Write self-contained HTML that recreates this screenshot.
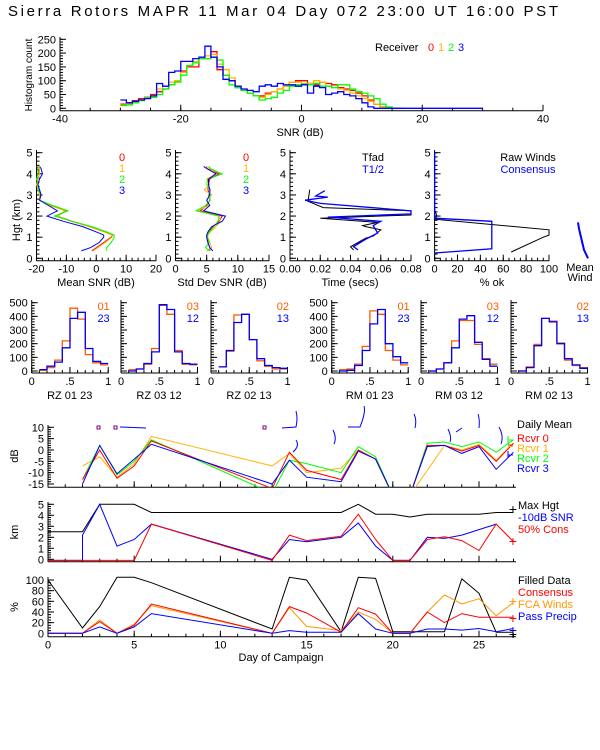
<!DOCTYPE html>
<html><head><meta charset="utf-8">
<style>
html,body{margin:0;padding:0;background:#fff;}
svg{display:block;font-family:"Liberation Sans",sans-serif;}
text{font-size:11px;}
</style></head>
<body>
<svg id="chart" xmlns="http://www.w3.org/2000/svg" width="600" height="750" viewBox="0 0 600 750">
<rect x="0" y="0" width="600" height="750" fill="#fff"/>
<text x="8" y="16" textLength="550" style="font-size:15px">Sierra Rotors  MAPR 11 Mar 04 Day 072  23:00 UT  16:00  PST</text>
</svg>
<script>
// ---------- DATA ----------
const histBinStart = -30;
const histRed = [15,20,28,35,40,50,60,70,85,100,135,150,150,180,180,205,140,120,100,75,65,55,45,45,55,60,70,80,95,100,100,90,85,95,90,85,75,70,65,55,45,30,15,5,0,0,0];
const histOrange = [12,15,20,30,38,45,70,80,95,100,130,155,170,180,190,195,160,140,110,80,65,55,45,40,50,60,70,80,95,95,90,90,100,95,80,75,70,65,55,45,35,25,15,5,0,0,0];
const histGreen = [10,12,20,28,38,40,50,70,85,95,120,155,165,180,180,185,175,120,85,75,65,55,45,30,35,40,55,65,80,85,88,85,90,80,80,75,85,85,70,60,55,45,35,15,5,0,0];
const histBlue = [30,20,25,30,35,45,90,80,130,135,170,170,180,185,225,185,150,105,100,80,70,65,60,80,85,80,90,85,85,80,85,55,80,75,50,55,60,50,45,35,20,5,0,0,0,0,0,0,0,0,0,0,0,0,0,0,0,0,0,0];
const histXTicks = [-40,-20,0,20,40];
const histYTicks = [0,50,100,150,200,250];

const profHeights = [0.35,0.5,0.75,1.0,1.1,1.25,1.5,1.75,2.0,2.25,2.5,2.75,3.0,3.25,3.5,3.75,4.0,4.25,4.35];
const meanRed = [-1.5,0,2.5,5,5.5,3,-2,-8,-13,-10,-15,-19,-18.5,-19,-20,-19.5,-19,-19.5,-20];
const meanOrange = [-1,0.5,3,5.3,5.3,2.5,-2.5,-8.5,-13,-10.5,-15.5,-19,-19,-19.5,-20,-19.5,-19,-19,-19.5];
const meanGreen = [3.5,3.5,5,6,6,3.5,-1.5,-8,-14,-9.5,-14.5,-19,-18.5,-19.5,-19.5,-20,-19.5,-19.5,-19.5];
const meanBlue = [-5,-2,1,2.5,2.5,0,-4.5,-11,-16.5,-13,-16,-19,-18.5,-19,-19.5,-19,-18,-18.5,-19];
const sdRed = [5.5,5.5,5.2,5,5,5.3,6,7,7.5,4,5,5.5,5.5,5.2,5.3,5.5,7,5,5];
const sdOrange = [5,5.8,5.5,5.2,5.1,5.6,6.5,7.2,7,3.5,5.3,5,5.8,4.6,5.5,5,6.5,5.5,5.2];
const sdGreen = [5.5,4.8,5.4,5.1,5.2,5.4,6.2,6.8,7,3.3,4.8,5.6,5.3,5.6,5,5.2,7.5,5.5,5.5];
const sdBlue = [6,5.5,5.2,5,5,5.2,5.8,7.5,8,4.5,5.5,5,5.5,5.5,5.3,5.3,6.5,5,4.5];
const tfadT = [0.042,0.040,0.045,0.050,0.055,0.060,0.050,0.048,0.058,0.020,0.080,0.080,0.022,0.012,0.013];
const tfadH = [0.40,0.55,0.75,0.95,1.05,1.35,1.50,1.55,1.70,1.90,2.05,2.25,2.40,2.70,3.25];
const thalfT = [0.045,0.042,0.050,0.058,0.055,0.060,0.025,0.080,0.080,0.020,0.010,0.025,0.017,0.023];
const thalfH = [0.40,0.55,0.90,1.20,1.55,1.75,1.95,2.10,2.25,2.60,2.75,2.90,2.95,3.20];
const rawPct = [67,95,100,100,0,2,0,0];
const rawH = [0.30,1.00,1.10,1.35,1.85,2.00,2.30,5.00];
const consPct = [0,50,50,0,0];
const consH = [0.25,0.45,1.75,1.90,5.00];
const windH = [0.0,0.2,0.4,0.6,0.8,1.0,1.2,1.4,1.7];
const windX = [588,586,584,583,582,581,580,579,578];

const rzLabels = ["RZ  01  23","RZ  03  12","RZ  02  13","RM  01  23","RM  03  12","RM  02  13"];
const rzLegA = ["01","03","02","01","03","02"];
const rzLegB = ["23","12","13","23","12","13"];
const rzOrange = [[5,25,80,220,460,380,120,60,45],[10,15,50,165,480,415,150,50,45],[30,145,410,415,230,75,35,15,15],[10,15,50,180,440,415,150,80,45],[0,15,60,220,370,370,195,90,50],[0,30,195,385,365,205,80,40,25]];
const rzBlue = [[10,35,65,170,385,430,165,70,55],[0,15,55,140,485,450,140,55,50],[30,150,355,415,230,90,40,25,20],[0,5,40,150,345,450,200,105,60],[0,15,60,170,380,405,210,85,35],[0,25,185,385,360,200,90,45,20]];

const days = [2,3,4,5,6,13,14,15,17,18,19,20,21,22,23,24,25,26,27];
const dbRed = [-13,0,-12.5,-7,4,-17,-1,-9,-13,0,-4,-20,-20,2,2,-0.5,2,-5,3];
const dbOrange = [-7,-3,-12,-6,6,-7,-1.5,-10,-8,0,-4,-20,-20,-9,2,0,2.5,-4.5,3];
const dbGreen = [-13,2,-11,-5,4.5,-19,-4.5,-6,-10,1.5,-3,-20,-20,3,3.5,1.5,3.5,-1,4.5];
const dbBlue = [-15,2,-10.5,-4,2.5,-15,-4.5,-12,-14,-0.5,-4,-20,-20,1.5,2,-1.5,1.5,-8.5,-1];
const maxDays = [0,2,3,5,6,17,18,19,20,21,22,25,26,27];
const maxHgt = [2.5,2.5,5,5,4.25,4.25,5,4.1,4.1,3.85,4.1,4.1,4.25,4.25];
const snrDays = [0,2,2,3,4,5,6,13,14,15,17,18,19,20,21,22,23,24,26];
const snrHgt = [-0.1,-0.1,2.2,5,1.2,1.8,3.2,0,1.8,1.6,2.0,3.3,1.2,-0.1,-0.1,2.0,1.9,2.2,3.2];
const consDays = [0,5,6,13,14,15,17,18,19,20,21,22,23,24,25,26,27];
const consHgt = [-0.1,-0.1,3.2,-0.1,2.2,1.7,2.1,4.1,1.8,-0.1,-0.1,1.8,2.05,1.7,0.8,3.2,1.6];
const filledDays = [0,2,3,4,5,6,13,14,15,17,18,19,20,21,23,24,25,26,27];
const filledPct = [100,10,50,105,105,95,8,105,100,3,105,103,3,3,3,102,75,2,2];
const pctDays = [0,2,3,4,5,6,13,14,15,17,18,19,20,21,22,23,24,25,26,27];
const consPctD = [0,0,22,0,15,55,0,50,38,2,48,36,0,0,40,20,37,30,30,30];
const fcaPct = [0,0,25,0,17,52,0,48,13,5,40,26,0,0,40,72,55,65,33,58];
const precipPct = [0,0,12,0,12,37,0,5,2,2,37,8,0,0,8,8,6,9,3,9];
const dayTicks = [0,5,10,15,20,25];

// ---------- HELPERS ----------
const NS = "http://www.w3.org/2000/svg";
const svg = document.getElementById('chart');
function el(tag, attrs, name, parent) {
  const e = document.createElementNS(NS, tag);
  for (const k in attrs) e.setAttribute(k, attrs[k]);
  
  
  (parent || svg).appendChild(e);
  return e;
}
function txt(x, y, s, name, opts) {
  opts = opts || {};
  const t = el('text', {x: x, y: y, fill: opts.fill || '#000', 'text-anchor': opts.anchor || 'start'}, name);
  if (opts.size) t.style.fontSize = opts.size + 'px';
  if (opts.rot) t.setAttribute('transform', 'rotate(-90 ' + x + ' ' + y + ')');
  t.textContent = s;
  return t;
}
function lin(x1, y1, x2, y2, name, color) {
  return el('line', {x1: x1, y1: y1, x2: x2, y2: y2, stroke: color || '#000', 'stroke-width': 1}, name);
}
function scale(d0, d1, r0, r1) { return v => r0 + (v - d0) * (r1 - r0) / (d1 - d0); }
function poly(xs, ys, sx, sy, color, name, clip, w) {
  const pts = xs.map((x, i) => sx(x).toFixed(1) + ',' + sy(ys[i]).toFixed(1)).join(' ');
  const p = el('polyline', {points: pts, fill: 'none', stroke: color, 'stroke-width': w || 1}, name);
  if (clip) p.setAttribute('clip-path', 'url(#' + clip + ')');
  return p;
}
function stepHist(start, w, vals, sx, sy, color, name) {
  let d = '';
  vals.forEach((v, i) => {
    const xa = sx(start + i * w), xb = sx(start + (i + 1) * w), y = sy(v);
    d += (i === 0 ? 'M' : 'L') + xa.toFixed(1) + ',' + y.toFixed(1) + 'L' + xb.toFixed(1) + ',' + y.toFixed(1);
  });
  return el('path', {d: d, fill: 'none', stroke: color, 'stroke-width': 1.3}, name);
}
function clipRect(id, x, y, w, h) {
  let defs = svg.querySelector('defs');
  if (!defs) defs = el('defs', {}, 'defs');
  const c = el('clipPath', {id: id}, 'clip-' + id, defs);
  el('rect', {x: x, y: y, width: w, height: h}, 'clip-rect', c);
}
function axes(p) {
  lin(p.x0, p.yb, p.x1, p.yb, p.name + '-x-axis');
  lin(p.x0, p.yb, p.x0, p.yt, p.name + '-y-axis');
  if (p.xMinor) for (let v = p.xr[0]; v <= p.xr[1] + 1e-9; v += p.xMinor) { const x = p.sx(v); if (x <= p.x1 + 0.5) lin(x, p.yb, x, p.yb - 3, p.name + '-x-minor-tick'); }
  if (p.xMajor) p.xMajor.forEach((v, i) => {
    const x = p.sx(v); lin(x, p.yb, x, p.yb - 6, p.name + '-x-tick');
    if (p.xLab) txt(x, p.yb + 12, p.xLab[i], p.name + '-x-tick-label', {anchor: 'middle'});
  });
  if (p.yMinor) for (let v = p.yr[0]; v <= p.yr[1] + 1e-9; v += p.yMinor) lin(p.x0, p.sy(v), p.x0 + 3, p.sy(v), p.name + '-y-minor-tick');
  if (p.yMajor) p.yMajor.forEach((v, i) => {
    const y = p.sy(v); lin(p.x0, y, p.x0 + 6, y, p.name + '-y-tick');
    if (p.yLab) txt(p.x0 - 4, y + 4, p.yLab[i], p.name + '-y-tick-label', {anchor: 'end'});
  });
}

// ---------- TOP HISTOGRAM ----------
(function () {
  const sx = scale(-40, 40, 60, 543), sy = scale(0, 250, 108.3, 39.3);
  axes({name: 'snr-hist', x0: 60, x1: 543, yb: 110.7, yt: 37, sx: sx, sy: sy, xr: [-40, 40], yr: [0, 250],
    xMinor: 5, xMajor: histXTicks, xLab: histXTicks.map(String), yMinor: 10, yMajor: histYTicks, yLab: histYTicks.map(String)});
  stepHist(histBinStart, 1, histRed, sx, sy, '#ff0000', 'hist-rcvr-0');
  stepHist(histBinStart, 1, histOrange, sx, sy, '#ffb400', 'hist-rcvr-1');
  stepHist(histBinStart, 1, histGreen, sx, sy, '#00ff00', 'hist-rcvr-2');
  stepHist(histBinStart, 1, histBlue, sx, sy, '#0000ff', 'hist-rcvr-3');
  txt(300, 136, 'SNR (dB)', 'x-axis-title-snr', {anchor: 'middle'});
  txt(32, 75, 'Histogram count', 'y-axis-title-histogram', {anchor: 'middle', rot: true, size: 10});
  txt(375, 51, 'Receiver', 'legend-receiver-title');
  txt(428, 51, '0', 'legend-entry-0', {fill: '#ff0000'});
  txt(438, 51, '1', 'legend-entry-1', {fill: '#ffb400'});
  txt(448, 51, '2', 'legend-entry-2', {fill: '#00ff00'});
  txt(458, 51, '3', 'legend-entry-3', {fill: '#0000ff'});
})();

// ---------- PROFILE PANELS ----------
const hy = scale(0, 5, 258.3, 152.7);
const hTicks = [0, 1, 2, 3, 4, 5];
function profAxes(name, x0, x1, xr, xMinor, xMajor, xLab) {
  const sx = scale(xr[0], xr[1], x0, x1);
  axes({name: name, x0: x0, x1: x1, yb: 260.7, yt: 150, sx: sx, sy: hy, xr: xr, yr: [0, 5],
    xMinor: xMinor, xMajor: xMajor, xLab: xLab, yMinor: 0.2, yMajor: hTicks, yLab: hTicks.map(String)});
  return sx;
}
(function () {
  const s1 = profAxes('mean-snr', 36.5, 156, [-20, 20], 2, [-20, -10, 0, 10, 20], ['-20', '-10', '0', '10', '20']);
  poly(meanRed, profHeights, s1, hy, '#ff0000', 'mean-snr-rcvr-0');
  poly(meanOrange, profHeights, s1, hy, '#ffb400', 'mean-snr-rcvr-1');
  poly(meanGreen, profHeights, s1, hy, '#00ff00', 'mean-snr-rcvr-2');
  poly(meanBlue, profHeights, s1, hy, '#0000ff', 'mean-snr-rcvr-3');
  txt(96, 286, 'Mean SNR (dB)', 'x-axis-title-mean-snr', {anchor: 'middle'});
  txt(20, 220, 'Hgt (km)', 'y-axis-title-hgt', {anchor: 'middle', rot: true});
  [['0', '#ff0000'], ['1', '#ffb400'], ['2', '#00ff00'], ['3', '#0000ff']].forEach((l, i) => {
    txt(119, 161 + i * 11, l[0], 'mean-snr-legend-' + l[0], {fill: l[1]});
    txt(243, 161 + i * 11, l[0], 'std-snr-legend-' + l[0], {fill: l[1]});
  });
  const s2 = profAxes('std-snr', 175.5, 269, [0, 15], 1, [0, 5, 10, 15], ['0', '5', '10', '15']);
  poly(sdRed, profHeights, s2, hy, '#ff0000', 'std-snr-rcvr-0');
  poly(sdOrange, profHeights, s2, hy, '#ffb400', 'std-snr-rcvr-1');
  poly(sdGreen, profHeights, s2, hy, '#00ff00', 'std-snr-rcvr-2');
  poly(sdBlue, profHeights, s2, hy, '#0000ff', 'std-snr-rcvr-3');
  txt(222, 286, 'Std Dev SNR (dB)', 'x-axis-title-std-snr', {anchor: 'middle'});
  const s3 = profAxes('time', 290, 411, [0, 0.08], 0.005, [0, 0.02, 0.04, 0.06, 0.08], ['0.00', '0.02', '0.04', '0.06', '0.08']);
  poly(tfadT, tfadH, s3, hy, '#000', 'tfad-line');
  poly(thalfT, thalfH, s3, hy, '#0000ff', 't-half-line', null, 1.3);
  txt(350, 286, 'Time (secs)', 'x-axis-title-time', {anchor: 'middle'});
  txt(362, 161, 'Tfad', 'legend-tfad');
  txt(362, 173, 'T1/2', 'legend-t-half', {fill: '#0000ff'});
  const s4 = profAxes('pct-ok', 434.6, 549, [0, 100], 5, [0, 20, 40, 60, 80, 100], ['0', '20', '40', '60', '80', '100']);
  poly(rawPct, rawH, s4, hy, '#000', 'raw-winds-line');
  poly(consPct, consH, s4, hy, '#0000ff', 'consensus-line', null, 1.3);
  txt(492, 286, '% ok', 'x-axis-title-pct-ok', {anchor: 'middle'});
  txt(528, 161, 'Raw Winds', 'legend-raw-winds', {anchor: 'middle'});
  txt(528, 173, 'Consensus', 'legend-consensus', {anchor: 'middle', fill: '#0000ff'});
  const wp = windX.map((x, i) => x + ',' + hy(windH[i]).toFixed(1)).join(' ');
  el('polyline', {points: wp, fill: 'none', stroke: '#0000ff', 'stroke-width': 2}, 'mean-wind-profile');
  txt(580, 271, 'Mean', 'mean-wind-label-1', {anchor: 'middle'});
  txt(580, 281, 'Wind', 'mean-wind-label-2', {anchor: 'middle'});
})();

// ---------- RZ / RM HISTOGRAMS ----------
(function () {
  const x0s = [31.7, 121, 211, 331.7, 421, 511];
  const sy = scale(0, 500, 371, 302.7);
  x0s.forEach((x0, p) => {
    const sx = scale(0, 1, x0, x0 + 76.5);
    const withLab = (p === 0 || p === 3);
    axes({name: 'corr-hist-' + (p + 1), x0: x0, x1: x0 + 77, yb: 373, yt: 300, sx: sx, sy: sy, xr: [0, 1], yr: [0, 500],
      xMinor: 0.1, xMajor: [0, 0.5, 1], xLab: ['0', '.5', '1'], yMinor: 20, yMajor: [0, 100, 200, 300, 400, 500],
      yLab: withLab ? ['0', '100', '200', '300', '400', '500'] : null});
    stepHist(0.1, 0.1, rzOrange[p], sx, sy, '#ff5a00', 'corr-hist-orange-' + (p + 1));
    stepHist(0.1, 0.1, rzBlue[p], sx, sy, '#0000ff', 'corr-hist-blue-' + (p + 1));
    txt(x0 + 78, 310, rzLegA[p], 'corr-legend-a-' + (p + 1), {anchor: 'end', fill: '#ff5a00'});
    txt(x0 + 78, 322, rzLegB[p], 'corr-legend-b-' + (p + 1), {anchor: 'end', fill: '#0000ff'});
    txt(x0 + 38, 399, rzLabels[p], 'corr-hist-title-' + (p + 1), {anchor: 'middle'});
  });
})();

// ---------- TIME SERIES ----------
(function () {
  const sx = scale(0, 25, 48, 479);
  const syA = scale(10, -15, 427.3, 484);
  axes({name: 'daily-mean', x0: 48, x1: 516, yb: 487.3, yt: 425, sx: sx, sy: syA, xr: [0, 27], yr: [-15, 10],
    xMinor: 1, xMajor: dayTicks, yMinor: 1, yMajor: [-15, -10, -5, 0, 5, 10], yLab: ['-15', '-10', '-5', '0', '5', '10']});
  clipRect('clipA', 48, 420, 470, 67.3);
  poly(days, dbOrange, sx, syA, '#ffb400', 'daily-mean-rcvr-1', 'clipA');
  poly(days, dbGreen, sx, syA, '#00ff00', 'daily-mean-rcvr-2', 'clipA');
  poly(days, dbRed, sx, syA, '#ff0000', 'daily-mean-rcvr-0', 'clipA');
  poly(days, dbBlue, sx, syA, '#0000ff', 'daily-mean-rcvr-3', 'clipA');
  txt(18, 456, 'dB', 'y-axis-title-db', {anchor: 'middle', rot: true});
  txt(517, 428, 'Daily Mean', 'legend-daily-mean');
  txt(517, 442, 'Rcvr 0', 'legend-rcvr-0', {fill: '#ff0000'});
  txt(517, 452, 'Rcvr 1', 'legend-rcvr-1', {fill: '#ffb400'});
  txt(517, 462, 'Rcvr 2', 'legend-rcvr-2', {fill: '#00ff00'});
  txt(517, 472, 'Rcvr 3', 'legend-rcvr-3', {fill: '#0000ff'});
  lin(508, 436, 508, 444, 'marker-green', '#00ff00'); lin(508, 440, 513, 440, 'marker-green-h', '#00ff00');
  lin(508, 445, 513, 445, 'marker-red', '#ff0000'); lin(508, 446.5, 513, 446.5, 'marker-orange', '#ffb400');
  lin(508, 455, 513, 455, 'marker-blue', '#0000ff'); lin(508, 451, 508, 458, 'marker-blue-v', '#0000ff');
  const barbs = ['M120,427 L146,428', 'M282,428 L296,427 Q298,418 296,411', 'M348,427 L360,427 Q366,412 364,406',
    'M333,430 Q337,438 334,444', 'M414,414 Q417,420 415,428', 'M448,429 Q452,437 450,442', 'M456,432 L462,428',
    'M478,414 Q480,420 479,428', 'M499,427 Q504,436 501,444', 'M296,440 Q300,446 293,452'];
  barbs.forEach(d => el('path', {d: d, fill: 'none', stroke: '#0000ff', 'stroke-width': 1}, 'wind-barb'));
  el('rect', {x: 97, y: 426, width: 3, height: 3, fill: 'none', stroke: '#800080'}, 'marker-purple');
  el('rect', {x: 114, y: 426, width: 3, height: 3, fill: 'none', stroke: '#800080'}, 'marker-purple');
  el('rect', {x: 263, y: 426, width: 3, height: 3, fill: 'none', stroke: '#800080'}, 'marker-purple');
  const syB = scale(0, 5, 559.3, 504.3);
  axes({name: 'max-hgt', x0: 48, x1: 516, yb: 561.7, yt: 502, sx: sx, sy: syB, xr: [0, 27], yr: [0, 5],
    xMinor: 1, xMajor: dayTicks, yMinor: 0.2, yMajor: [0, 1, 2, 3, 4, 5], yLab: ['0', '1', '2', '3', '4', '5']});
  poly(maxDays, maxHgt, sx, syB, '#000', 'max-hgt-line');
  poly(snrDays, snrHgt, sx, syB, '#0000ff', 'snr-10db-line');
  poly(consDays, consHgt, sx, syB, '#ff0000', 'cons-50-line');
  txt(18, 532, 'km', 'y-axis-title-km', {anchor: 'middle', rot: true});
  txt(518, 509, 'Max Hgt', 'legend-max-hgt');
  txt(518, 521, '-10dB SNR', 'legend-10db-snr', {fill: '#0000ff'});
  txt(518, 533, '50% Cons', 'legend-50-cons', {fill: '#ff0000'});
  txt(513, 514, '+', 'marker-black-plus', {anchor: 'middle', size: 14});
  txt(513, 546, '+', 'marker-red-plus', {anchor: 'middle', size: 14, fill: '#ff0000'});
  const syC = scale(0, 100, 633.3, 580);
  axes({name: 'pct', x0: 48, x1: 516, yb: 636.7, yt: 577, sx: sx, sy: syC, xr: [0, 27], yr: [0, 100],
    xMinor: 1, xMajor: dayTicks, xLab: dayTicks.map(String), yMinor: 5, yMajor: [0, 20, 40, 60, 80, 100], yLab: ['0', '20', '40', '60', '80', '100']});
  poly(filledDays, filledPct, sx, syC, '#000', 'filled-data-line');
  poly(pctDays, fcaPct, sx, syC, '#ff9900', 'fca-winds-line');
  poly(pctDays, consPctD, sx, syC, '#ff0000', 'consensus-pct-line');
  poly(pctDays, precipPct, sx, syC, '#0000ff', 'pass-precip-line');
  txt(18, 607, '%', 'y-axis-title-pct', {anchor: 'middle', rot: true});
  txt(281, 661, 'Day of Campaign', 'x-axis-title-day', {anchor: 'middle'});
  txt(518, 584, 'Filled Data', 'legend-filled-data');
  txt(518, 596, 'Consensus', 'legend-consensus-pct', {fill: '#ff0000'});
  txt(518, 608, 'FCA Winds', 'legend-fca-winds', {fill: '#ff9900'});
  txt(518, 620, 'Pass Precip', 'legend-pass-precip', {fill: '#0000ff'});
  txt(513, 606, '+', 'marker-orange-plus', {anchor: 'middle', size: 14, fill: '#ff9900'});
  txt(513, 623, '+', 'marker-red-plus-pct', {anchor: 'middle', size: 14, fill: '#ff0000'});
  txt(513, 635, '+', 'marker-blue-plus', {anchor: 'middle', size: 14, fill: '#0000ff'});
  txt(513, 639, '+', 'marker-black-plus-pct', {anchor: 'middle', size: 14});
})();
</script>
</body></html>
